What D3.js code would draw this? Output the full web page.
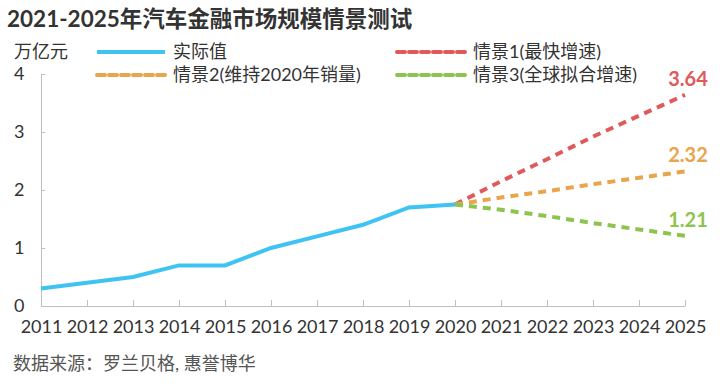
<!DOCTYPE html>
<html>
<head>
<meta charset="utf-8">
<script src="https://cdn.jsdelivr.net/npm/d3@7"></script>
<style>
body { margin: 0; background: #fff; }
text { font-family: Lato, "Noto Sans CJK SC", sans-serif; }
</style>
</head>
<body>
<div id="chart"></div>
<script>
// data
var years = [2011, 2012, 2013, 2014, 2015, 2016, 2017, 2018, 2019, 2020, 2021, 2022, 2023, 2024, 2025];
var actualYears = [2011, 2012, 2013, 2014, 2015, 2016, 2017, 2018, 2019, 2020];
var actual = [0.3, 0.4, 0.5, 0.7, 0.7, 1.0, 1.2, 1.4, 1.7, 1.75];
var scenYears = [2020, 2021, 2022, 2023, 2024, 2025];
var scen1 = [1.75, 2.15, 2.53, 2.92, 3.28, 3.64];
var scen2 = [1.75, 1.87, 1.98, 2.10, 2.21, 2.32];
var scen3 = [1.75, 1.66, 1.55, 1.43, 1.32, 1.21];
var yTicks = [0, 1, 2, 3, 4];

var w = 727, h = 386;
var svg = d3.select("#chart").append("svg").attr("width", w).attr("height", h);

var x = d3.scaleLinear().domain([2011, 2025]).range([41, 685]);
var y = d3.scaleLinear().domain([0, 4]).range([306, 74]);

var lineFunc = d3.line()
    .x(function (d) { return x(d[0]); })
    .y(function (d) { return y(d[1]); });

// title
svg.append("text").attr("x", 7).attr("y", 27)
    .attr("font-size", 22.5).attr("font-weight", "bold").attr("fill", "#333")
    .text("2021-2025年汽车金融市场规模情景测试");

svg.append("text").attr("x", 14).attr("y", 58)
    .attr("font-size", 18).attr("fill", "#333").text("万亿元");

// axes
var xAxis = d3.axisBottom(x).tickValues(years).tickFormat(d3.format("d")).tickSizeInner(-6).tickSizeOuter(0);
var gx = svg.append("g").attr("transform", "translate(0,306)").call(xAxis);
gx.select(".domain").attr("stroke", "#bfbfbf");
gx.selectAll(".tick line").attr("stroke", "#bfbfbf");
gx.selectAll(".tick text").attr("font-size", 18).attr("fill", "#333").attr("y", 14)
    .attr("font-family", "Lato, sans-serif");

var yAxis = d3.axisLeft(y).tickValues(yTicks).tickFormat(d3.format("d")).tickSizeInner(-4).tickSizeOuter(0);
var gy = svg.append("g").attr("transform", "translate(41,0)").call(yAxis);
gy.select(".domain").attr("stroke", "#bfbfbf");
gy.selectAll(".tick line").attr("stroke", "#bfbfbf");
gy.selectAll(".tick text").attr("font-size", 18).attr("fill", "#333")
    .attr("x", -27).attr("text-anchor", "start").attr("font-family", "Lato, sans-serif");

var series = [
    { name: "情景1(最快增速)", color: "#e05a5c", vals: scen1, dash: true, lx: 397, ly: 52 },
    { name: "情景2(维持2020年销量)", color: "#e8a54b", vals: scen2, dash: true, lx: 97, ly: 75 },
    { name: "情景3(全球拟合增速)", color: "#8dc450", vals: scen3, dash: true, lx: 397, ly: 75 }
];

series.forEach(function (s) {
    svg.append("path")
        .attr("d", lineFunc(scenYears.map(function (yr, i) { return [yr, s.vals[i]]; })))
        .attr("fill", "none").attr("stroke", s.color).attr("stroke-width", 4)
        .attr("stroke-dasharray", "8,6");
    var last = s.vals[s.vals.length - 1];
    svg.append("text").attr("x", x(2025) + 3).attr("y", y(last) - 9)
        .attr("text-anchor", "middle").attr("font-size", 20).attr("font-weight", "bold")
        .attr("fill", s.color).text(d3.format(".2f")(last));
});

svg.append("path")
    .attr("d", lineFunc(actualYears.map(function (yr, i) { return [yr, actual[i]]; })))
    .attr("fill", "none").attr("stroke", "#3ec3f2").attr("stroke-width", 4);

// legend
var legend = [{ name: "实际值", color: "#3ec3f2", dash: false, lx: 97, ly: 52 }].concat(series);
legend.forEach(function (s) {
    svg.append("line").attr("x1", s.lx).attr("x2", s.lx + 68).attr("y1", s.ly).attr("y2", s.ly)
        .attr("stroke", s.color).attr("stroke-width", 4)
        .attr("stroke-dasharray", s.dash ? "8,4" : null)
        .attr("stroke-linecap", s.dash ? "round" : null);
    svg.append("text").attr("x", s.lx + 76).attr("y", s.ly + 6)
        .attr("font-size", 18).attr("fill", "#333").text(s.name);
});

svg.append("text").attr("x", 13).attr("y", 370)
    .attr("font-size", 18).attr("fill", "#555").text("数据来源：罗兰贝格, 惠誉博华");
</script>
</body>
</html>
